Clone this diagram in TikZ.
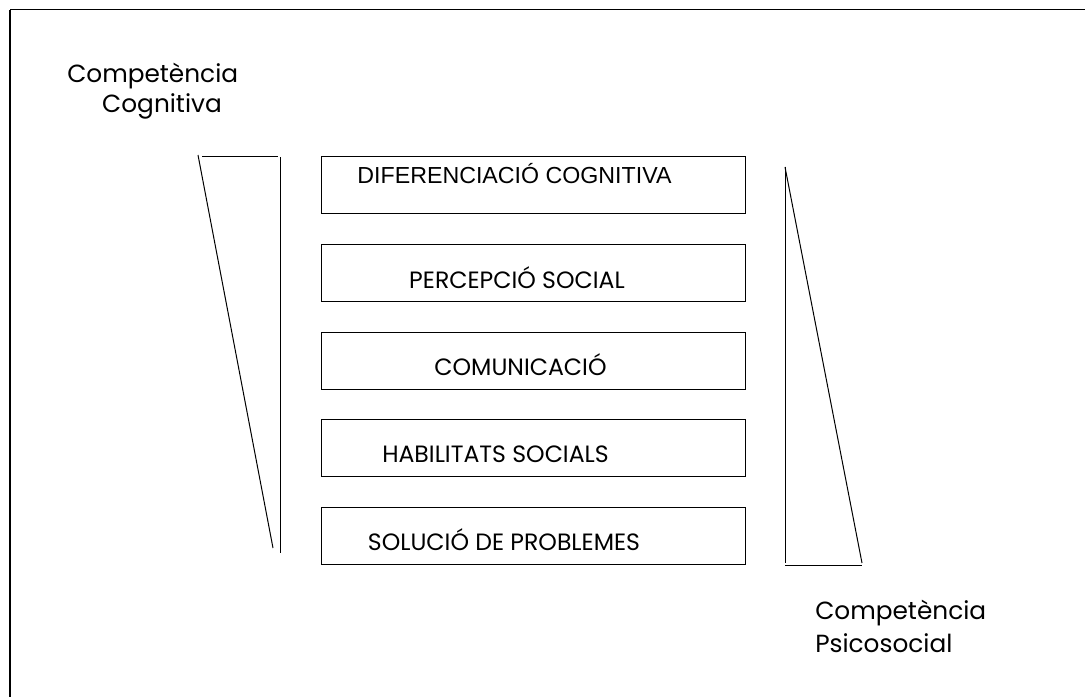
\documentclass[tikz,border=0pt]{standalone}
\usepackage{fontspec}
\setmainfont{Poppins}
\newfontfamily\arialfont{Liberation Sans}
\begin{document}
\begin{tikzpicture}[x=0.75pt,y=-0.75pt,
  ln/.style={line width=0.75pt,black},
  levelbox/.style={draw,line width=0.75pt,minimum width=424*0.75pt,minimum height=57*0.75pt,inner sep=0pt,anchor=north west},
  lbl/.style={inner sep=0pt,anchor=base,font=\fontsize{17.7}{21}\selectfont},
  side/.style={inner sep=0pt,anchor=base,font=\fontsize{18.6}{22}\selectfont}]
\useasboundingbox (0,0) rectangle (1085,697);
% frame (top and left visible)
\draw[line width=1.1pt] (10,9.5) -- (1085,9.5);
\draw[line width=1.1pt] (10,9.5) -- (10,697);
% boxes
\node[levelbox] (b1) at (321,156) {};
\node[levelbox] (b2) at (321,244) {};
\node[levelbox] (b3) at (321,332) {};
\node[levelbox] (b4) at (321,419) {};
\node[levelbox] (b5) at (321,507) {};
\node[inner sep=0pt,anchor=base,font=\arialfont\fontsize{17.4}{21}\selectfont] (t1) at (514.5,183) {DIFERENCIACIÓ COGNITIVA};
\node[lbl] (t2) at (517,288) {PERCEPCIÓ SOCIAL};
\node[lbl] (t3) at (520.5,375) {COMUNICACIÓ};
\node[lbl] (t4) at (495.5,462) {HABILITATS SOCIALS};
\node[lbl] (t5) at (504,550) {SOLUCIÓ DE PROBLEMES};
% side labels
\node[side,anchor=base west] (c1) at (67,82) {Competència};
\node[side] (c2) at (162,112) {Cognitiva};
\node[side,anchor=base west] (p1) at (815,619) {Competència};
\node[side,anchor=base west] (p2) at (815,652) {Psicosocial};
% left wedge
\draw[ln] (202,156) -- (278,156);
\draw[ln] (198,155) -- (273,548);
\draw[ln] (280,157) -- (280,553);
% right wedge
\draw[ln] (785,167) -- (785,563);
\draw[ln] (785,167) -- (862,563);
\draw[ln] (785,565) -- (862,565);
\end{tikzpicture}
\end{document}
